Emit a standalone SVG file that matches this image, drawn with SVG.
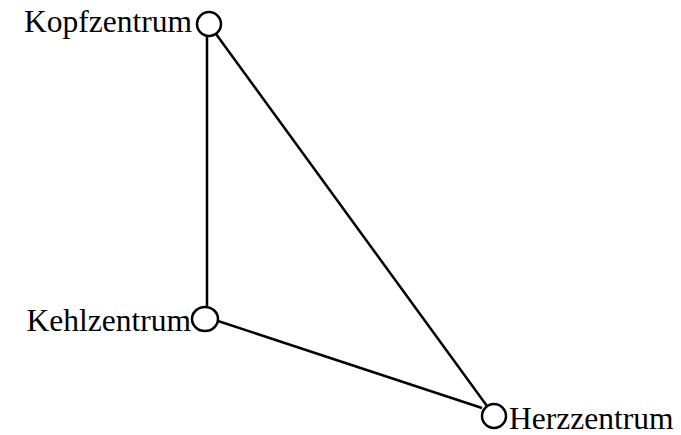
<svg xmlns="http://www.w3.org/2000/svg" width="681" height="435" viewBox="0 0 681 435">
<style>
.n{fill:#fff;stroke:#000;stroke-width:2.5}
.e{stroke:#000;stroke-width:2.5;fill:none}
text{font-family:"Liberation Serif","Times New Roman",serif;font-size:31.5px;fill:#000}
</style>
<rect width="681" height="435" fill="#fff"/>
<g id="edges">
<line class="e" x1="207" y1="36" x2="207" y2="307"/>
<line class="e" x1="216" y1="34" x2="487" y2="406"/>
<line class="e" x1="218" y1="321" x2="482" y2="408"/>
</g>
<g id="kopf"><ellipse class="n" cx="209" cy="24" rx="12" ry="12"/><text x="192" y="32" text-anchor="end">Kopfzentrum</text></g>
<g id="kehl"><ellipse class="n" cx="205" cy="319" rx="13" ry="12"/><text x="191" y="331" text-anchor="end">Kehlzentrum</text></g>
<g id="herz"><ellipse class="n" cx="494" cy="416" rx="12" ry="12"/><text x="509" y="429">Herzzentrum</text></g>
</svg>
